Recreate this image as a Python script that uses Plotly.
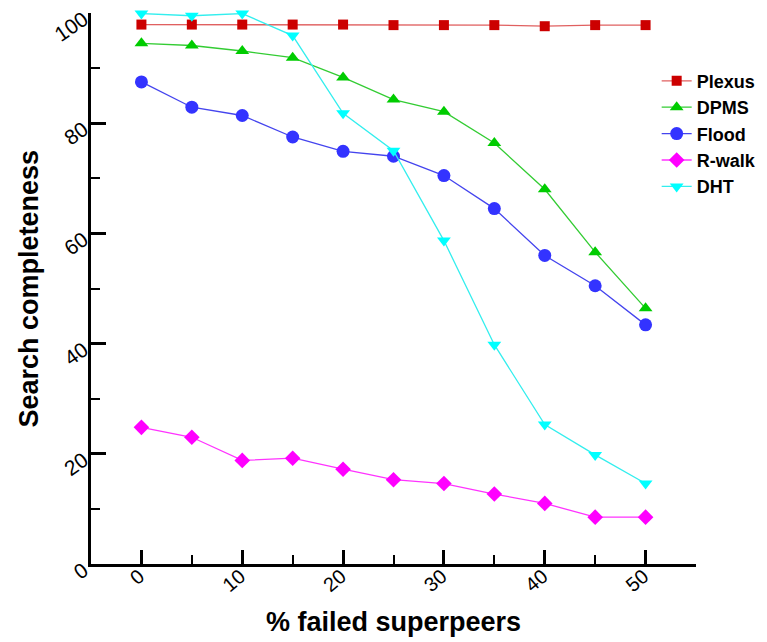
import plotly.graph_objects as go

x_failed = [0, 5, 10, 15, 20, 25, 30, 35, 40, 45, 50]
plexus = [97.9, 97.9, 97.9, 97.9, 97.9, 97.8, 97.8, 97.8, 97.6, 97.8, 97.8]
dpms = [94.5, 94.1, 93.1, 91.9, 88.3, 84.3, 82.1, 76.4, 68.0, 56.6, 46.4]
flood = [87.5, 82.9, 81.4, 77.5, 74.9, 74.0, 70.5, 64.5, 56.0, 50.5, 43.4]
rwalk = [24.8, 23.0, 18.8, 19.2, 17.2, 15.3, 14.6, 12.7, 11.0, 8.5, 8.5]
dht = [99.9, 99.5, 99.9, 95.9, 81.8, 75.0, 58.7, 39.8, 25.3, 19.8, 14.6]

x_ticks = [0, 10, 20, 30, 40, 50]
y_ticks = [0, 20, 40, 60, 80, 100]

series = [
    ("Plexus", plexus, "#cc0000", "#e06060", "square", 10),
    ("DPMS", dpms, "#00cc00", "#33cc33", "triangle-up", 12),
    ("Flood", flood, "#3333ff", "#4444ee", "circle", 13),
    ("R-walk", rwalk, "#ff00ff", "#ff33ff", "diamond", 12),
    ("DHT", dht, "#00ffff", "#33eeee", "triangle-down", 12),
]

fig = go.Figure()
for name, vals, mcol, lcol, sym, size in series:
    fig.add_trace(go.Scatter(
        x=x_failed, y=vals, name=name, mode="lines+markers",
        line=dict(color=lcol, width=1.3),
        marker=dict(symbol=sym, size=size, color=mcol, line=dict(width=0)),
        cliponaxis=False,
    ))

font_main = "Liberation Sans, Arial, sans-serif"

fig.update_layout(
    width=759, height=634,
    margin=dict(l=83, r=71, t=5, b=78),
    paper_bgcolor="white", plot_bgcolor="white",
    font=dict(family=font_main, color="black"),
    showlegend=True,
    legend=dict(
        x=0.935, y=0.91, xanchor="left", yanchor="top",
        font=dict(family=font_main, size=18, color="black", weight="bold"),
        bgcolor="rgba(0,0,0,0)", tracegroupgap=0,
    ),
    xaxis=dict(
        range=[-5, 55], tickvals=x_ticks, ticktext=[str(v) for v in x_ticks],
        ticks="inside", ticklen=14, tickwidth=3, tickcolor="black",
        showline=True, linecolor="black", linewidth=3,
        showgrid=False, zeroline=False, tickangle=-40, automargin=False,
        ticklabelstandoff=-10, ticklabelshift=-2, ticklabeloverflow="allow",
        tickfont=dict(size=20, family=font_main),
        minor=dict(dtick=10, tick0=5, ticks="inside", ticklen=9, tickwidth=1.5, tickcolor="black", showgrid=False),
    ),
    yaxis=dict(
        range=[0, 100], tickvals=y_ticks, ticktext=[str(v) for v in y_ticks],
        ticks="inside", ticklen=15, tickwidth=3, tickcolor="black",
        showline=True, linecolor="black", linewidth=3,
        showgrid=False, zeroline=False, tickangle=-35, automargin=False,
        ticklabelshift=4, ticklabeloverflow="allow",
        tickfont=dict(size=21, family=font_main),
        minor=dict(dtick=20, tick0=10, ticks="inside", ticklen=9, tickwidth=1.5, tickcolor="black", showgrid=False),
    ),
    annotations=[
        dict(text="% failed superpeers", xref="paper", yref="paper", x=0.5, y=0,
             xanchor="center", yanchor="middle", yshift=-58, showarrow=False,
             font=dict(size=27, family=font_main, weight="bold")),
        dict(text="Search completeness", xref="paper", yref="paper", x=0, y=0.5,
             xanchor="center", yanchor="middle", xshift=-63, textangle=-90, showarrow=False,
             font=dict(size=27, family=font_main, weight="bold")),
    ],
)

fig.write_html("out.html")
